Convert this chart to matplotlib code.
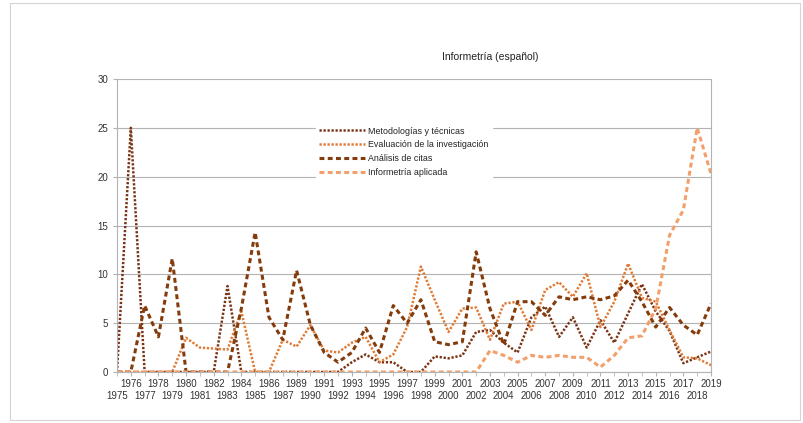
import numpy as np
import matplotlib
matplotlib.use("Agg")
import matplotlib.pyplot as plt
from matplotlib.patches import Rectangle

plt.rcParams['font.family'] = ['Liberation Sans', 'DejaVu Sans']

# categories (1988 is absent in the source)
years = list(range(1975, 1988)) + list(range(1989, 2020))

metodologias = [0, 25, 0, 0, 0, 0, 0, 0, 8.8, 0, 0, 0, 0,
                0, 0, 0, 0, 1.0, 1.8, 1.0, 1.0, 0, 0,
                1.6, 1.4, 1.7, 4.1, 4.3, 3.0, 2.0, 5.6, 6.7, 3.6,
                5.6, 2.5, 5.3, 3.0, 6.0, 9.0, 6.2, 4.2, 0.9, 1.5, 2.1]
evaluacion = [0, 0, 0, 0, 0, 3.5, 2.5, 2.4, 2.3, 6.2, 0, 0, 3.3,
              2.6, 4.8, 2.2, 2.0, 3.0, 3.6, 1.0, 1.8, 4.6, 10.8,
              7.4, 4.1, 6.5, 6.6, 3.3, 7.0, 7.2, 4.3, 8.4, 9.2,
              7.7, 10.1, 4.6, 7.2, 11.1, 7.6, 7.2, 4.3, 1.5, 1.4, 0.7]
citas = [0, 0, 6.8, 3.6, 11.6, 0, 0, 0, 0, 6.5, 14.3, 5.6, 3.3,
         10.4, 4.8, 2.0, 1.0, 2.0, 4.5, 2.0, 6.8, 5.0, 7.4,
         3.1, 2.8, 3.1, 12.3, 6.5, 2.8, 7.2, 7.2, 5.8, 7.7,
         7.4, 7.7, 7.4, 7.8, 9.4, 7.2, 4.6, 6.6, 4.8, 3.8, 7.0]
aplicada = [0] * 27 + [2.2, 1.7, 1.0, 1.7, 1.5, 1.7, 1.5, 1.5, 0.5, 1.7,
                       3.5, 3.7, 6.5, 14.0, 16.6, 25, 20.3]

x = np.arange(len(years))

fig = plt.figure(figsize=(8.04, 4.23), dpi=100)
fig.patches.append(Rectangle((10 / 804, 3 / 423), 790 / 804, 417 / 423,
                             transform=fig.transFigure, fill=False,
                             edgecolor="#d4d4d4", linewidth=0.8))
ax = fig.add_axes([117 / 804, 51 / 423, 594 / 804, 293 / 423])

ax.plot(x, metodologias, color="#7a3416", lw=1.8, ls=(0, (0.9, 0.7)),
        label="Metodologías y técnicas")
ax.plot(x, evaluacion, color="#e07b35", lw=1.8, ls=(0, (0.9, 0.7)),
        label="Evaluación de la investigación")
ax.plot(x, citas, color="#843c0c", lw=2.2, ls=(0, (1.6, 1.1)),
        label="Análisis de citas")
ax.plot(x, aplicada, color="#f2a06b", lw=2.2, ls=(0, (1.6, 1.1)),
        label="Informetría aplicada")

ax.set_xlim(0, len(years) - 1)
ax.set_ylim(0, 30)
ax.set_yticks(range(0, 31, 5))
ax.yaxis.grid(True, color="#b3b3b3", lw=0.8)
ax.set_axisbelow(True)

# two staggered rows of year labels
ax.set_xticks(x[1::2])
ax.set_xticklabels([str(y) for y in years[1::2]])
ax.set_xticks(x[0::2], minor=True)
ax.set_xticklabels([str(y) for y in years[0::2]], minor=True)
ax.tick_params(axis="both", which="both", labelsize=7, color="#b3b3b3",
               length=3, labelcolor="#333333")
ax.tick_params(axis="x", which="major", pad=2)
ax.tick_params(axis="x", which="minor", pad=11)

for side in ["left", "right", "bottom"]:
    ax.spines[side].set_color("#b3b3b3")
    ax.spines[side].set_linewidth(0.8)
ax.spines["top"].set_visible(False)

fig.text(490 / 804, 1 - 57 / 423, "Informetría (español)", ha="center",
         va="center", fontsize=7.5, color="#222222")

leg = ax.legend(loc="upper left", bbox_to_anchor=(0.327, 0.865), fontsize=6.4,
                frameon=True, fancybox=False, edgecolor="white",
                framealpha=1, handlelength=5.2, handletextpad=0.3,
                labelspacing=0.55, borderpad=0.4)
for t in leg.get_texts():
    t.set_color("#222222")

fig.savefig("out.png", dpi=100)
